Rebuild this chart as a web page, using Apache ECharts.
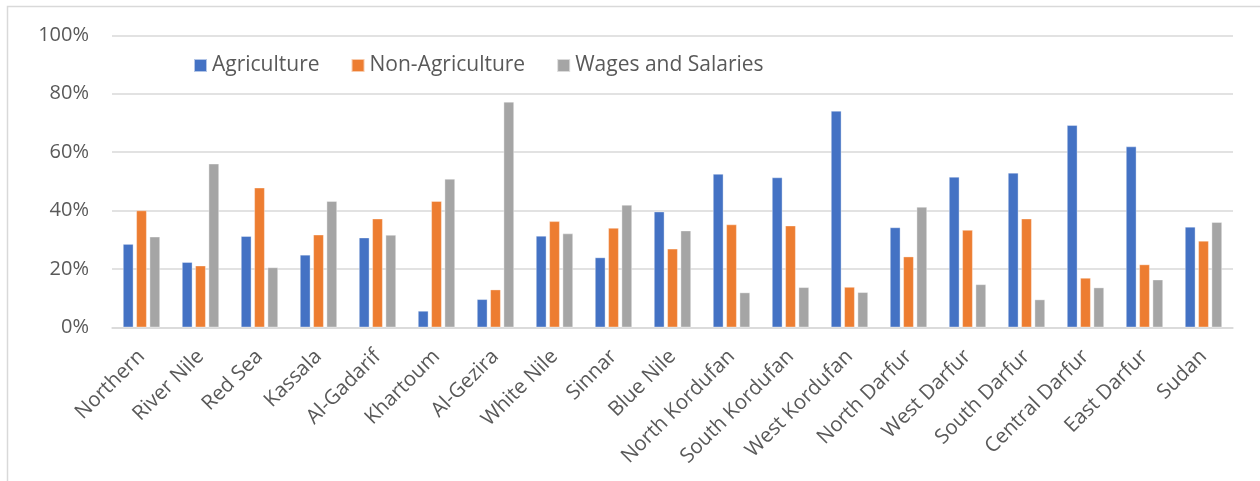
<!DOCTYPE html>
<html>
<head>
<meta charset="utf-8">
<script src="https://cdn.jsdelivr.net/npm/echarts@6/dist/echarts.min.js"></script>
<style>
html,body{margin:0;padding:0;background:#fff;}
#chart{width:1260px;height:481px;}
</style>
</head>
<body>
<div id="chart"></div>
<script>
const categories = ["Northern","River Nile","Red Sea","Kassala","Al-Gadarif","Khartoum","Al-Gezira","White Nile","Sinnar","Blue Nile","North Kordufan","South Kordufan","West Kordufan","North Darfur","West Darfur","South Darfur","Central Darfur","East Darfur","Sudan"];
const agriculture = [28.5,22.3,31.2,24.8,30.7,5.6,9.6,31.3,23.9,39.6,52.5,51.3,74.1,34.2,51.5,52.9,69.2,61.9,34.4];
const nonAgriculture = [40.0,21.1,47.8,31.7,37.2,43.2,12.9,36.3,34.0,26.9,35.2,34.8,13.8,24.2,33.3,37.2,16.9,21.5,29.6];
const wages = [31.0,56.0,20.5,43.2,31.6,50.8,77.2,32.1,41.9,33.1,11.9,13.7,12.0,41.2,14.7,9.5,13.6,16.3,36.0];
const yTicks = [0,20,40,60,80,100];

const FONT = '"Open Sans", sans-serif';
const TXT = '#595959';
const chart = echarts.init(document.getElementById('chart'), null, {renderer:'canvas'});
const barStyle = (c) => ({color:c, borderColor:'rgba(255,255,255,0.6)', borderWidth:0.6});
chart.setOption({
  animation:false,
  backgroundColor:'#fff',
  textStyle:{fontFamily:FONT},
  graphic:[{type:'rect', shape:{x:7.5,y:6.5,width:1400,height:600}, style:{fill:'none',stroke:'#d9d9d9',lineWidth:1.5}, silent:true, z:-10}],
  legend:{
    left:188, top:50, itemWidth:13, itemHeight:13, itemGap:31,
    icon:'rect',
    textStyle:{fontFamily:FONT, fontSize:21, color:TXT},
    data:['Agriculture','Non-Agriculture','Wages and Salaries']
  },
  grid:{left:112, right:27, top:35.3, bottom:153.7, containLabel:false},
  xAxis:{
    type:'category', data:categories,
    axisLine:{lineStyle:{color:'#d9d9d9', width:1.5}},
    axisTick:{show:false},
    axisLabel:{rotate:45, fontFamily:FONT, fontSize:20.5, color:TXT, margin:26, interval:0}
  },
  yAxis:{
    type:'value', min:0, max:100, interval:20,
    axisLabel:{formatter: v => yTicks.includes(v) ? v + '%' : '', fontFamily:FONT, fontSize:20, color:TXT, margin:23},
    axisLine:{show:false}, axisTick:{show:false},
    splitLine:{lineStyle:{color:'#d9d9d9', width:1.5}}
  },
  series:[
    {name:'Agriculture', type:'bar', data:agriculture, barWidth:10.4, barGap:'28%', itemStyle:barStyle('#4472C4')},
    {name:'Non-Agriculture', type:'bar', data:nonAgriculture, barWidth:10.4, barGap:'28%', itemStyle:barStyle('#ED7D31')},
    {name:'Wages and Salaries', type:'bar', data:wages, barWidth:10.4, barGap:'28%', itemStyle:barStyle('#A5A5A5')}
  ]
});
</script>
</body>
</html>
